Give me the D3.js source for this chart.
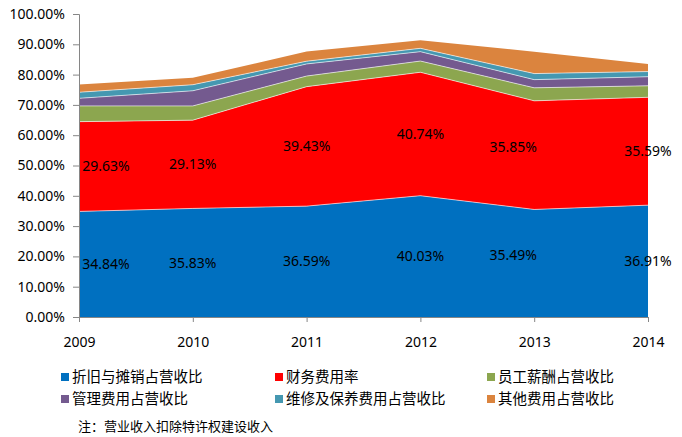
<!DOCTYPE html>
<html>
<head>
<meta charset="utf-8">
<script src="https://cdn.jsdelivr.net/npm/d3@7"></script>
<style>
  body { margin: 0; background: #fff; }
  svg text { font-family: "Noto Sans", "Noto Sans CJK SC", sans-serif; }
</style>
</head>
<body>
<div id="chart"></div>
<script>
// years on the x axis
const years = [2009, 2010, 2011, 2012, 2013, 2014];

// series values (% of operating revenue), bottom to top
const depreciation = [34.84, 35.83, 36.59, 40.03, 35.49, 36.91];
const financeCost = [29.63, 29.13, 39.43, 40.74, 35.85, 35.59];
const staffPay = [5.2, 4.7, 3.5, 3.7, 4.3, 3.8];
const adminCost = [2.5, 5.0, 4.0, 3.1, 2.7, 3.0];
const upkeepCost = [2.0, 2.0, 0.9, 1.1, 2.0, 1.7];
const otherCost = [2.6, 2.3, 3.2, 2.7, 7.2, 2.5];

const seriesNames = ["折旧与摊销占营收比", "财务费用率", "员工薪酬占营收比",
                     "管理费用占营收比", "维修及保养费用占营收比", "其他费用占营收比"];
const yTicks = [0, 10, 20, 30, 40, 50, 60, 70, 80, 90, 100];
const note = "注：营业收入扣除特许权建设收入";

const colors = ["#0070C0", "#FF0000", "#8CA64F", "#745A8F", "#4598B1", "#DB843E"];

const width = 682, height = 437;
const margin = { top: 14, right: 34, bottom: 120, left: 79 };

const svg = d3.select("#chart").append("svg")
  .attr("width", width)
  .attr("height", height);

// build table for d3.stack
const allSeries = [depreciation, financeCost, staffPay, adminCost, upkeepCost, otherCost];
const keys = seriesNames;
const table = years.map((yr, i) => {
  const row = { year: yr };
  keys.forEach((k, j) => row[k] = allSeries[j][i]);
  return row;
});
const stacked = d3.stack().keys(keys)(table);

const x = d3.scalePoint().domain(years).range([margin.left, width - margin.right]);
const y = d3.scaleLinear().domain([0, 100]).range([317, margin.top]);

const area = d3.area()
  .x(d => x(d.data.year))
  .y0(d => y(d[0]))
  .y1(d => y(d[1]));

svg.append("g")
  .selectAll("path")
  .data(stacked)
  .join("path")
  .attr("fill", (d, i) => colors[i])
  .attr("d", area);

// thin light seams between layers
const seam = d3.line().x(d => x(d.data.year)).y(d => y(d[1]));
svg.append("g")
  .selectAll("path")
  .data(stacked.slice(0, 5))
  .join("path")
  .attr("fill", "none")
  .attr("stroke", "#fff")
  .attr("stroke-opacity", 0.6)
  .attr("stroke-width", 1)
  .attr("d", seam);

// axes
const yAxis = svg.append("g")
  .attr("transform", `translate(${margin.left},0)`)
  .call(d3.axisLeft(y).tickValues(yTicks).tickSize(6).tickPadding(8)
    .tickFormat(d => d.toFixed(2) + "%"));
yAxis.select(".domain").attr("stroke", "#868686");
yAxis.selectAll(".tick line").attr("stroke", "#868686");
yAxis.selectAll("text").attr("font-size", 14).attr("fill", "#000");

const xAxis = svg.append("g")
  .attr("transform", `translate(0,${y(0)})`)
  .call(d3.axisBottom(x).tickSize(5).tickPadding(15).tickSizeOuter(0));
xAxis.select(".domain").attr("stroke", "#868686");
xAxis.selectAll(".tick line").attr("stroke", "#868686");
xAxis.selectAll("text").attr("font-size", 14).attr("fill", "#000");

// data labels for the two bottom series (first label kept inside the plot,
// 2013 labels nudged up-left as in the original)
const labelLayers = stacked.slice(0, 2);
svg.append("g")
  .attr("font-size", 14)
  .attr("text-anchor", "middle")
  .selectAll("g")
  .data(labelLayers)
  .join("g")
  .selectAll("text")
  .data(d => d)
  .join("text")
  .attr("x", (d, i) => i === 0 ? x(d.data.year) + 27 : (i === 4 ? x(d.data.year) - 21 : x(d.data.year)))
  .attr("y", (d, i) => y((d[0] + d[1]) / 2) - (i === 4 ? 8 : 0))
  .attr("dy", "0.35em")
  .text(d => (d[1] - d[0]).toFixed(2) + "%");

// legend
const legendCols = [61, 275, 487];
const legendRows = [377, 399];
const legend = svg.append("g").attr("font-size", 14.5);
seriesNames.forEach((name, i) => {
  const lx = legendCols[i % 3], ly = legendRows[Math.floor(i / 3)];
  legend.append("rect")
    .attr("x", lx).attr("y", ly - 4)
    .attr("width", 8).attr("height", 8)
    .attr("fill", colors[i]);
  legend.append("text")
    .attr("x", lx + 11).attr("y", ly)
    .attr("dy", "0.35em")
    .text(name);
});

svg.append("text")
  .attr("x", 78).attr("y", 426)
  .attr("dy", "0.35em")
  .attr("font-size", 13)
  .text(note);
</script>
</body>
</html>
